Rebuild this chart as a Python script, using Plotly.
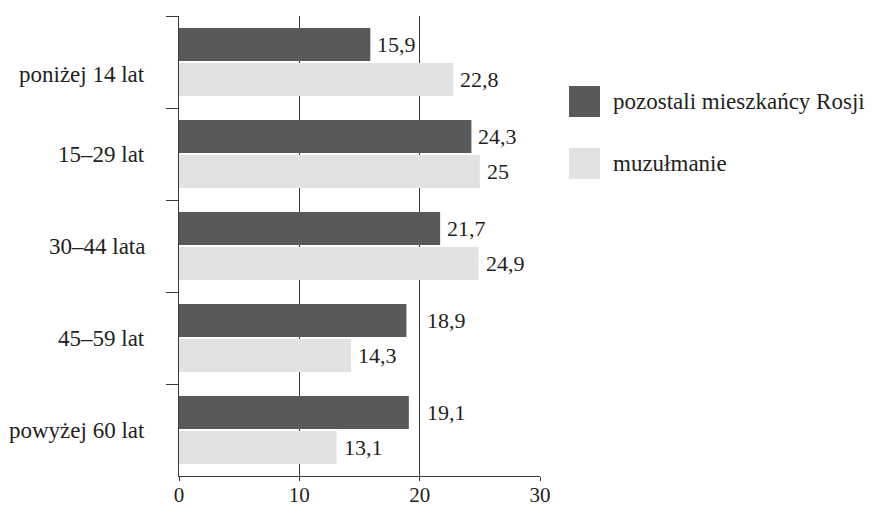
import plotly.graph_objects as go

# Age structure (%) of Muslims vs. the rest of Russia's population
categories = ["poniżej 14 lat", "15–29 lat", "30–44 lata", "45–59 lat", "powyżej 60 lat"]
others = [15.9, 24.3, 21.7, 18.9, 19.1]
muslims = [22.8, 25, 24.9, 14.3, 13.1]
series_names = ["pozostali mieszkańcy Rosji", "muzułmanie"]
x_ticks = [0, 10, 20, 30]

W, H = 874, 506
L, R, T, B = 179, 540, 16, 476          # plot-area edges in pixels
DARK, LIGHT = "#58595b", "#e1e2e3"
INK, LINE = "#231f20", "#3a3a3a"
FONT = "'Liberation Serif', 'DejaVu Serif', serif"
TEXT_SIZE, NUM_SIZE = 23, 22
BARGAP, GROUPGAP = 0.239, 0.057
LABEL_NUDGE = {"poniżej 14 lat": -12}   # vertical tweak (px) of a category caption


def fmt(v):
    return f"{v:g}".replace(".", ",")


fig = go.Figure()
for name, vals, col in [(series_names[0], others, DARK), (series_names[1], muslims, LIGHT)]:
    fig.add_trace(go.Bar(
        y=categories, x=vals, name=name, orientation="h",
        marker=dict(color=col, line=dict(width=0)),
        showlegend=False, hoverinfo="skip",
    ))

# value labels placed beside bar ends; pushed past a gridline they would touch
slot = (1 - BARGAP) / 2
offsets = [-slot / 2, slot / 2]
annotations = []
for k, vals in enumerate([others, muslims]):
    for i, v in enumerate(vals):
        x, shift = v, 5
        for g in x_ticks[1:]:
            if v < g < v + 1.2:
                x, shift = g, 5
        annotations.append(dict(
            x=x, y=i + offsets[k], xref="x", yref="y", text=fmt(v),
            showarrow=False, xanchor="left", yanchor="middle", xshift=shift,
            font=dict(family=FONT, size=NUM_SIZE, color=INK),
        ))

# category captions to the left of the axis
for i, c in enumerate(categories):
    annotations.append(dict(
        x=0, y=i, xref="paper", yref="y", text=c, showarrow=False,
        xanchor="right", yanchor="middle", xshift=-32,
        yshift=LABEL_NUDGE.get(c, 0),
        font=dict(family=FONT, size=TEXT_SIZE, color=INK),
    ))


def px_x(p):
    return (p - L) / (R - L)


def px_y(p):
    return (B - p) / (B - T)


# legend drawn as swatches with captions
shapes = []
for j, (name, col) in enumerate(zip(series_names, [DARK, LIGHT])):
    top = 86 + j * 62
    shapes.append(dict(
        type="rect", xref="paper", yref="paper",
        x0=px_x(569), x1=px_x(600), y0=px_y(top + 31), y1=px_y(top),
        fillcolor=col, line=dict(width=0),
    ))
    annotations.append(dict(
        x=px_x(611), y=px_y(top + 15.5), xref="paper", yref="paper",
        text=name, showarrow=False, xanchor="left", yanchor="middle",
        font=dict(family=FONT, size=TEXT_SIZE, color=INK),
    ))

fig.update_layout(
    width=W, height=H,
    margin=dict(l=L, r=W - R, t=T, b=H - B, pad=0, autoexpand=False),
    paper_bgcolor="white", plot_bgcolor="white",
    barmode="group", bargap=BARGAP, bargroupgap=GROUPGAP,
    font=dict(family=FONT, size=TEXT_SIZE, color=INK),
    annotations=annotations, shapes=shapes,
    xaxis=dict(
        range=[0, 30], tickvals=x_ticks, ticktext=[str(t) for t in x_ticks],
        showgrid=True, gridcolor=LINE, gridwidth=1.2, zeroline=False,
        showline=True, linecolor=LINE, linewidth=1.2,
        ticks="outside", ticklen=4, tickcolor=LINE, tickwidth=1.2,
        ticklabelstandoff=-4, automargin=False,
        tickfont=dict(family=FONT, size=21, color=INK),
    ),
    yaxis=dict(
        autorange="reversed", type="category", automargin=False,
        showline=True, linecolor=LINE, linewidth=1.2, showgrid=False,
        ticks="outside", ticklen=12, tickcolor=LINE, tickwidth=1.2,
        tickson="boundaries", showticklabels=False,
    ),
)

fig.write_html("out.html")
